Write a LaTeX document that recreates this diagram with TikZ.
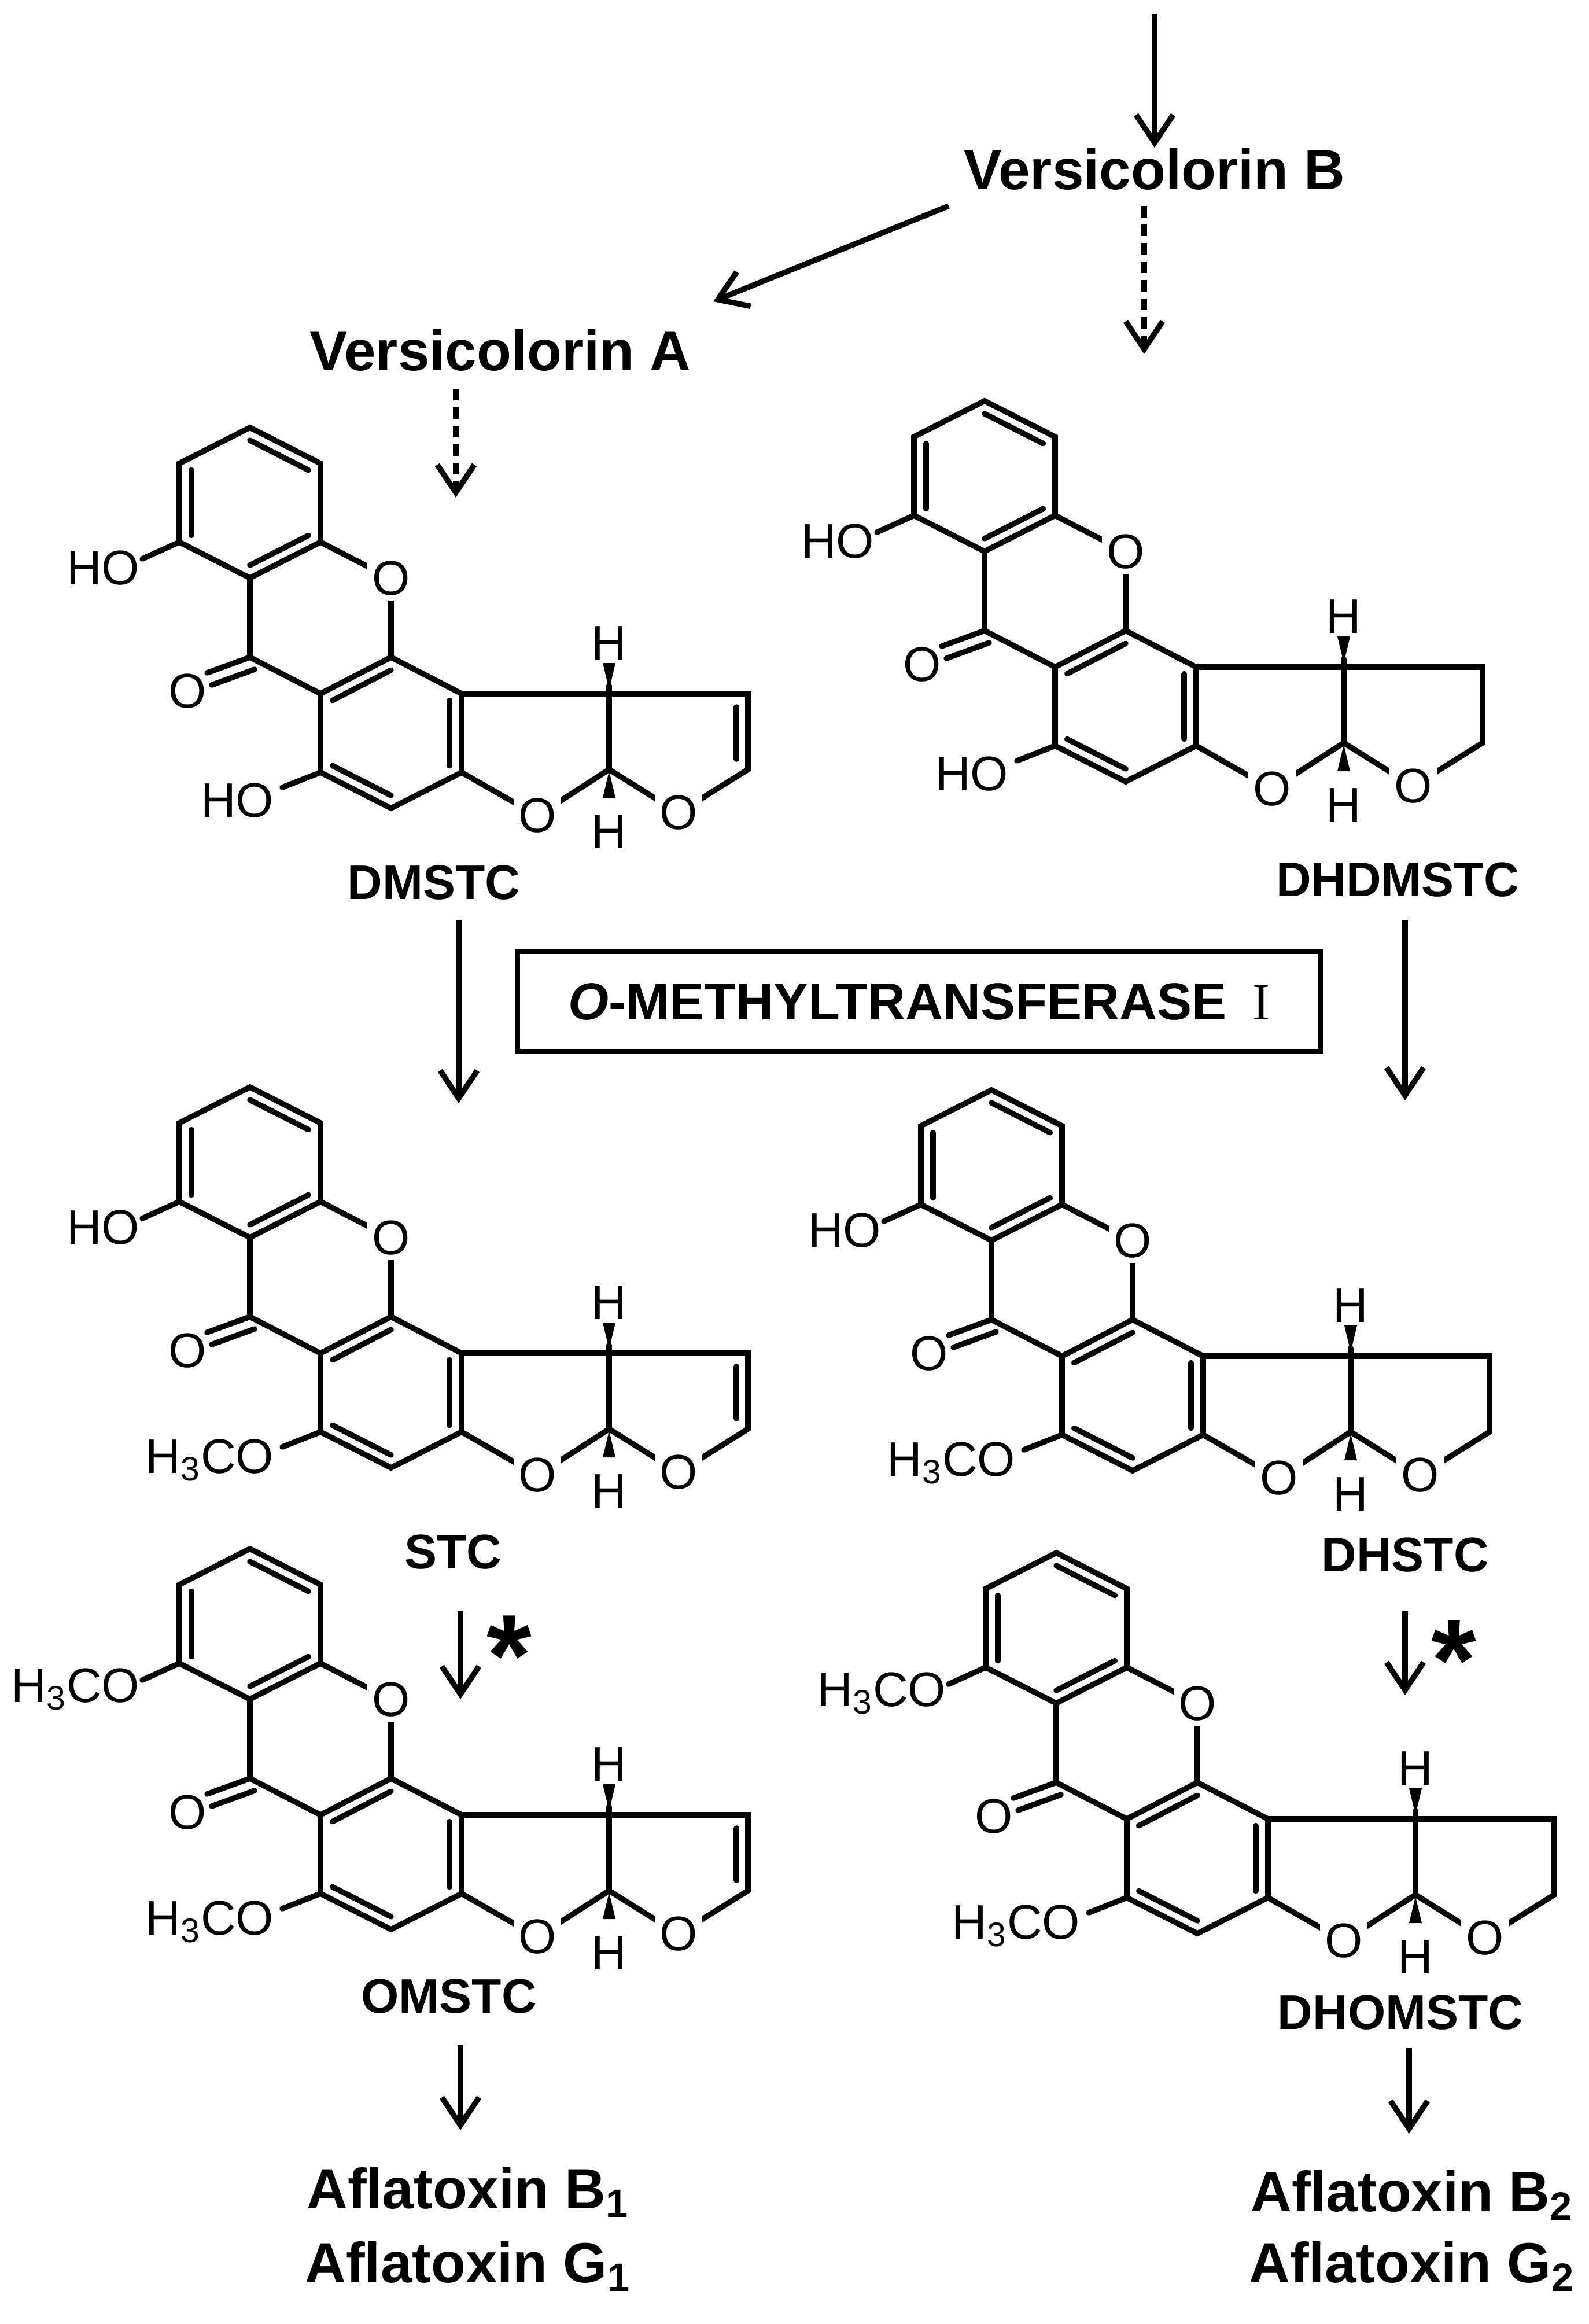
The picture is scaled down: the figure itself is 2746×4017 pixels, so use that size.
\documentclass[tikz,border=0pt]{standalone}
\usepackage{fontspec}
\setmainfont{Liberation Sans}
\newfontfamily\romanfont{Liberation Serif}
\usetikzlibrary{arrows.meta,calc}
\tikzset{
 bond/.style={line width=2.4pt,line join=miter,line cap=round},
 atom/.style={font=\fontsize{21}{24}\selectfont,inner sep=1pt},
 oatom/.style={atom,fill=white,inner sep=2pt},
 cname/.style={font=\bfseries\fontsize{21}{24}\selectfont,inner sep=0pt},
 title/.style={font=\bfseries\fontsize{24.5}{28}\selectfont,inner sep=0pt},
 arr/.style={line width=2.4pt,-{Straight Barb[length=12pt,width=16pt,line width=2.4pt]}},
 darr/.style={arr,dash pattern=on 5pt off 3pt},
}
\newcommand\mol[6]{%
\begin{scope}[shift={(#2,#3)}]
\coordinate (#1a1) at (432,739); \coordinate (#1a2) at (554,801);
\coordinate (#1a3) at (554,937); \coordinate (#1a4) at (432,999);
\coordinate (#1a5) at (310,937); \coordinate (#1a6) at (310,801);
\coordinate (#1ac) at (432,869);
\coordinate (#1o) at (676,1000); \coordinate (#1k) at (432,1136);
\coordinate (#1c1) at (676,1136); \coordinate (#1c2) at (798,1199);
\coordinate (#1c3) at (798,1335); \coordinate (#1c4) at (676,1397);
\coordinate (#1c5) at (554,1335); \coordinate (#1c6) at (554,1199);
\coordinate (#1cc) at (676,1267);
\coordinate (#1d1) at (1053,1199); \coordinate (#1d2) at (1053,1330);
\coordinate (#1e1) at (1293,1199); \coordinate (#1e2) at (1293,1330);
\coordinate (#1p) at (929,1410); \coordinate (#1q) at (1173,1405);
\draw[bond] (#1a1)--(#1a2)--(#1a3)--(#1a4)--(#1a5)--(#1a6)--cycle;
\draw[bond] ($(#1a5)!.17!(#1ac)$)--($(#1a6)!.17!(#1ac)$);
\draw[bond] ($(#1a1)!.17!(#1ac)$)--($(#1a2)!.17!(#1ac)$);
\draw[bond] ($(#1a3)!.17!(#1ac)$)--($(#1a4)!.17!(#1ac)$);
\draw[bond] (#1a3)--(#1o)--(#1c1);
\draw[bond] (#1c6)--(#1k)--(#1a4);
\draw[bond] (#1c1)--(#1c2)--(#1c3)--(#1c4)--(#1c5)--(#1c6)--cycle;
\draw[bond] ($(#1c6)!.17!(#1cc)$)--($(#1c1)!.17!(#1cc)$);
\draw[bond] ($(#1c2)!.17!(#1cc)$)--($(#1c3)!.17!(#1cc)$);
\draw[bond] ($(#1c4)!.17!(#1cc)$)--($(#1c5)!.17!(#1cc)$);
\draw[bond] (#1c2)--(#1d1)--(#1d2)--(#1p)--(#1c3);
\draw[bond] (#1d1)--(#1e1)--(#1e2)--(#1q)--(#1d2);
\ifnum#6=1 \draw[bond] (1273,1222)--(1273,1312);\fi
\draw[bond] (#1k)--(358,1163);
\draw[bond] (440,1157)--(366,1184);
\node[atom] (#1ko) at (324,1195) {O};
\draw[bond] (#1a5)--(246,966);
\node[atom,anchor=east] (#1top) at (246,982) {#4};
\draw[bond] (#1c5)--(488,1361);
\node[atom,anchor=east] (#1bot) at (478,1384) {#5};
\node[oatom] (#1ol) at (#1o) {O};
\node[oatom] (#1pl) at (#1p) {O};
\node[oatom] (#1ql) at (#1q) {O};
\draw[bond] (#1d1)--(1053,1185);
\fill (1053,1192)--(1042,1146)--(1064,1146)--cycle;
\node[atom] (#1h1) at (1053,1112) {H};
\fill (1053,1333)--(1042,1379)--(1064,1379)--cycle;
\node[atom] (#1h2) at (1053,1438) {H};
\end{scope}}
\newcommand\hco{H\textsubscript{3}CO}
\begin{document}
\begin{tikzpicture}[x=0.25pt,y=-0.25pt]
\path[use as bounding box,fill=white] (0,0) rectangle (2746,4017);
\coordinate (top) at (1996,25);
\node[title] (vb) at (1996,292) {Versicolorin B};
\node[title] (va) at (865,605) {Versicolorin A};
\draw[arr] (top) -- (vb.north);
\coordinate (s1) at (1640,356); \coordinate (s2) at (1233,521);
\draw[arr] (s1) -- (s2);
\coordinate (d1) at (1978,356); \coordinate (d2) at (1978,612);
\draw[darr] (d1) -- (d2);
\coordinate (d3) at (788,672); \coordinate (d4) at (788,860);
\draw[darr] (d3) -- (d4);
\mol{m1}{0}{0}{HO}{HO}{1}
\mol{m2}{1270}{-46}{HO}{HO}{0}
\mol{m3}{0}{1140}{HO}{\hco}{1}
\mol{m4}{1282}{1145}{HO}{\hco}{0}
\mol{m5}{0}{1938}{\hco}{\hco}{1}
\mol{m6}{1394}{1945}{\hco}{\hco}{0}
\node[cname] (n1) at (750,1526) {DMSTC};
\node[cname] (n2) at (2416,1521) {DHDMSTC};
\node[cname] (n3) at (783,2683) {STC};
\node[cname] (n4) at (2429,2688) {DHSTC};
\node[cname] (n5) at (776,3451) {OMSTC};
\node[cname] (n6) at (2421,3479) {DHOMSTC};
\node[draw,line width=2.2pt,minimum width=1389*0.25pt,minimum height=173*0.25pt,inner sep=0pt,font=\bfseries\fontsize{22.5}{26}\selectfont] (box) at (1589,1731) {\textit{O}-METHYLTRANSFERASE\enspace{\romanfont\mdseries I}};
\coordinate (e1) at (793,1590); \coordinate (e2) at (793,1907);
\draw[arr] (e1)--(e2);
\coordinate (e3) at (2429,1590); \coordinate (e4) at (2429,1902);
\draw[arr] (e3)--(e4);
\coordinate (f1) at (796,2785); \coordinate (f2) at (796,2937);
\draw[arr] (f1)--(f2);
\node[font=\bfseries\fontsize{50}{50}\selectfont] (st1) at (880,2862) {*};
\coordinate (f3) at (2429,2785); \coordinate (f4) at (2429,2930);
\draw[arr] (f3)--(f4);
\node[font=\bfseries\fontsize{50}{50}\selectfont] (st2) at (2513,2870) {*};
\coordinate (g1) at (796,3535); \coordinate (g2) at (796,3682);
\draw[arr] (g1)--(g2);
\coordinate (g3) at (2436,3540); \coordinate (g4) at (2436,3688);
\draw[arr] (g3)--(g4);
\node[title] (ab1) at (809,3789) {Aflatoxin B\textsubscript{1}};
\node[title] (ag1) at (809,3917) {Aflatoxin G\textsubscript{1}};
\node[title] (ab2) at (2441,3794) {Aflatoxin B\textsubscript{2}};
\node[title] (ag2) at (2441,3917) {Aflatoxin G\textsubscript{2}};
\end{tikzpicture}
\end{document}
